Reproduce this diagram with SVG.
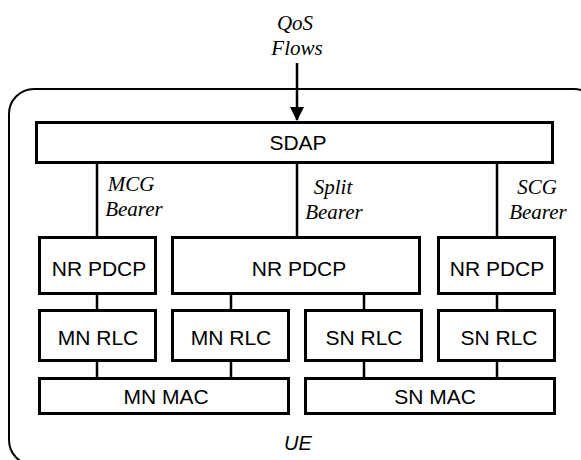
<svg xmlns="http://www.w3.org/2000/svg" width="581" height="460" viewBox="0 0 581 460">
<defs>
<style>
.box{fill:#fff;stroke:#000;stroke-width:3}
.lbl{font-family:"Liberation Sans",Arial,sans-serif;font-size:21px;fill:#000;text-anchor:middle}
.it{font-family:"Liberation Serif","Times New Roman",serif;font-style:italic;font-size:21px;fill:#000;text-anchor:middle}
.ln{stroke:#000;stroke-width:2.5;fill:none}
</style>
<marker id="ah" markerWidth="14" markerHeight="16" refX="13" refY="7" orient="auto" markerUnits="userSpaceOnUse" viewBox="0 0 14 14">
<path d="M0,0 L14,7 L0,14 Z" fill="#000"/>
</marker>
</defs>
<rect width="581" height="460" fill="#fff"/>
<g id="ue">
<rect x="9" y="89" width="590" height="376" rx="25" ry="25" fill="none" stroke="#000" stroke-width="2"/>
<text x="298" y="450" class="lbl" style="font-style:italic;font-size:20px">UE</text>
</g>
<g id="qos">
<text x="295" y="30" class="it">QoS</text>
<text x="297" y="55" class="it">Flows</text>
</g>
<g id="connectors">
<line x1="297" y1="63" x2="297" y2="120" class="ln" stroke-width="3" marker-end="url(#ah)"/>
<line x1="97" y1="164" x2="97" y2="236" class="ln"/>
<line x1="297" y1="164" x2="297" y2="236" class="ln"/>
<line x1="497" y1="164" x2="497" y2="236" class="ln"/>
<line x1="97" y1="295" x2="97" y2="309" class="ln"/>
<line x1="231" y1="295" x2="231" y2="309" class="ln"/>
<line x1="364" y1="295" x2="364" y2="309" class="ln"/>
<line x1="497" y1="295" x2="497" y2="309" class="ln"/>
<line x1="97" y1="362" x2="97" y2="377" class="ln"/>
<line x1="231" y1="362" x2="231" y2="377" class="ln"/>
<line x1="364" y1="362" x2="364" y2="377" class="ln"/>
<line x1="497" y1="362" x2="497" y2="377" class="ln"/>
<text x="131" y="191" class="it">MCG</text>
<text x="134" y="216" class="it">Bearer</text>
<text x="333" y="194" class="it">Split</text>
<text x="334" y="219" class="it">Bearer</text>
<text x="537" y="194" class="it">SCG</text>
<text x="538" y="219" class="it">Bearer</text>
</g>
<g id="sdap">
<rect x="36.5" y="122.5" width="516" height="40" class="box"/>
<text x="298" y="150" class="lbl">SDAP</text>
</g>
<g id="pdcp-mcg">
<rect x="39.5" y="237.5" width="116" height="56" class="box"/>
<text x="99" y="276" class="lbl">NR PDCP</text>
</g>
<g id="pdcp-split">
<rect x="172.5" y="237.5" width="247" height="56" class="box"/>
<text x="299" y="276" class="lbl">NR PDCP</text>
</g>
<g id="pdcp-scg">
<rect x="438.5" y="237.5" width="116" height="56" class="box"/>
<text x="497" y="276" class="lbl">NR PDCP</text>
</g>
<g id="rlc-mn1">
<rect x="39.5" y="310.5" width="116" height="50" class="box"/>
<text x="98" y="345" class="lbl">MN RLC</text>
</g>
<g id="rlc-mn2">
<rect x="172.5" y="310.5" width="116" height="50" class="box"/>
<text x="231" y="345" class="lbl">MN RLC</text>
</g>
<g id="rlc-sn1">
<rect x="305.5" y="310.5" width="116" height="50" class="box"/>
<text x="364" y="345" class="lbl">SN RLC</text>
</g>
<g id="rlc-sn2">
<rect x="438.5" y="310.5" width="116" height="50" class="box"/>
<text x="499" y="345" class="lbl">SN RLC</text>
</g>
<g id="mac-mn">
<rect x="39.5" y="378.5" width="249" height="35" class="box"/>
<text x="166" y="404" class="lbl">MN MAC</text>
</g>
<g id="mac-sn">
<rect x="305.5" y="378.5" width="249" height="35" class="box"/>
<text x="435" y="404" class="lbl">SN MAC</text>
</g>
</svg>
